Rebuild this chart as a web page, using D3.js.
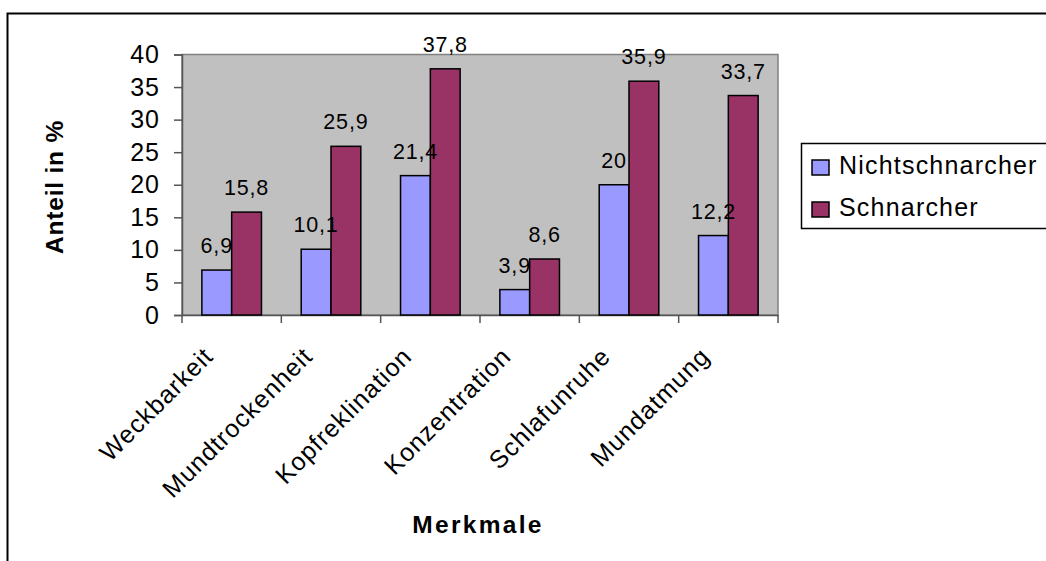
<!DOCTYPE html>
<html>
<head>
<meta charset="utf-8">
<script src="https://cdn.jsdelivr.net/npm/d3@7"></script>
<style>
  body { margin: 0; background: #fff; }
  text { font-family: "Liberation Sans", Arial, sans-serif; fill: #000; }
</style>
</head>
<body>
<div id="chart"></div>
<script>
var categories = ["Weckbarkeit", "Mundtrockenheit", "Kopfreklination", "Konzentration", "Schlafunruhe", "Mundatmung"]
var seriesNames = ["Nichtschnarcher", "Schnarcher"]
var nichtschnarcher = [6.9, 10.1, 21.4, 3.9, 20, 12.2]
var schnarcher = [15.8, 25.9, 37.8, 8.6, 35.9, 33.7]
var yTicks = [0, 5, 10, 15, 20, 25, 30, 35, 40]
var colors = ["#9999FF", "#993366"]

var W = 1046, H = 561
var plot = { left: 182, right: 778, top: 54.5, bottom: 315 }

var svg = d3.select("#chart")
  .append("svg")
  .attr("width", W)
  .attr("height", H)

// chart area border (right/bottom run off the picture)
svg.append("rect")
  .attr("x", 7.5).attr("y", 13.5)
  .attr("width", 1100).attr("height", 700)
  .attr("fill", "none")
  .attr("stroke", "#000")
  .attr("stroke-width", 2)

var x0 = d3.scaleBand()
  .domain(categories)
  .range([plot.left, plot.right])

var bw = x0.bandwidth()
var x1 = d3.scaleBand()
  .domain(seriesNames)
  .range([bw * 0.2, bw * 0.8])

var y = d3.scaleLinear()
  .domain([0, 40])
  .range([plot.bottom, plot.top])

// plot area
svg.append("rect")
  .attr("x", plot.left).attr("y", plot.top)
  .attr("width", plot.right - plot.left)
  .attr("height", plot.bottom - plot.top)
  .attr("fill", "#C0C0C0")
  .attr("stroke", "#808080")
  .attr("stroke-width", 1.5)

// y axis
var yAxis = svg.append("g")
  .attr("transform", "translate(" + plot.left + ",0)")
  .call(d3.axisLeft(y).tickValues(yTicks).tickSize(8).tickPadding(14))
yAxis.select(".domain").attr("stroke", "#555").attr("stroke-width", 1.5)
yAxis.selectAll(".tick line").attr("stroke", "#555").attr("stroke-width", 1.5)
yAxis.selectAll("text")
  .attr("font-size", 25)
  .attr("letter-spacing", 1)
  .attr("font-family", "Liberation Sans, Arial, sans-serif")
  .attr("fill", "#000")

// x axis
var xAxis = svg.append("g")
  .attr("transform", "translate(0," + plot.bottom + ")")
  .call(d3.axisBottom(x0).tickSize(0).tickFormat(""))
xAxis.select(".domain").attr("stroke", "#555").attr("stroke-width", 1.5)
xAxis.selectAll(".tick").remove()

var bounds = categories.map(function (d) { return x0(d) }).concat([plot.right])
svg.append("g").selectAll("line")
  .data(bounds)
  .enter().append("line")
  .attr("x1", function (d) { return d }).attr("x2", function (d) { return d })
  .attr("y1", plot.bottom).attr("y2", plot.bottom + 8)
  .attr("stroke", "#555").attr("stroke-width", 1.5)

svg.append("g").selectAll("text")
  .data(categories)
  .enter().append("text")
  .attr("transform", function (d) {
    return "translate(" + (x0(d) + bw / 2 - 17) + "," + (plot.bottom + 43) + ") rotate(-45)"
  })
  .attr("text-anchor", "end")
  .attr("font-size", 25)
  .attr("letter-spacing", 1)
  .text(function (d) { return d })

// bars
var rows = categories.map(function (c, i) {
  return { cat: c, values: [
    { name: seriesNames[0], v: nichtschnarcher[i], color: colors[0] },
    { name: seriesNames[1], v: schnarcher[i], color: colors[1] }
  ] }
})

var groups = svg.append("g").selectAll("g")
  .data(rows)
  .enter().append("g")
  .attr("transform", function (d) { return "translate(" + x0(d.cat) + ",0)" })

groups.selectAll("rect")
  .data(function (d) { return d.values })
  .enter().append("rect")
  .attr("x", function (d) { return x1(d.name) })
  .attr("y", function (d) { return y(d.v) })
  .attr("width", x1.bandwidth())
  .attr("height", function (d) { return plot.bottom - y(d.v) })
  .attr("fill", function (d) { return d.color })
  .attr("stroke", "#000")
  .attr("stroke-width", 1.5)

groups.selectAll("text")
  .data(function (d) { return d.values })
  .enter().append("text")
  .attr("x", function (d) { return x1(d.name) + x1.bandwidth() / 2 })
  .attr("y", function (d) { return y(d.v) - 17 })
  .attr("text-anchor", "middle")
  .attr("font-size", 21.5)
  .attr("letter-spacing", 0.8)
  .text(function (d) { return String(d.v).replace(".", ",") })

// axis titles
svg.append("text")
  .attr("transform", "translate(63,187) rotate(-90)")
  .attr("text-anchor", "middle")
  .attr("font-size", 24.5)
  .attr("font-weight", "bold")
  .attr("letter-spacing", 0.8)
  .text("Anteil in %")

svg.append("text")
  .attr("x", 478).attr("y", 533)
  .attr("text-anchor", "middle")
  .attr("font-size", 24.5)
  .attr("font-weight", "bold")
  .attr("letter-spacing", 2.3)
  .text("Merkmale")

// legend
var legend = svg.append("g")
legend.append("rect")
  .attr("x", 801.5).attr("y", 143.5)
  .attr("width", 300).attr("height", 85)
  .attr("fill", "#fff")
  .attr("stroke", "#000")
  .attr("stroke-width", 1.5)

var items = legend.selectAll("g")
  .data(seriesNames)
  .enter().append("g")
  .attr("transform", function (d, i) { return "translate(812," + (160 + i * 42) + ")" })

items.append("rect")
  .attr("width", 17).attr("height", 15)
  .attr("fill", function (d, i) { return colors[i] })
  .attr("stroke", "#000")
  .attr("stroke-width", 1.5)

items.append("text")
  .attr("x", 27).attr("y", 14)
  .attr("font-size", 25)
  .attr("letter-spacing", 1.2)
  .text(function (d) { return d })
</script>
</body>
</html>
